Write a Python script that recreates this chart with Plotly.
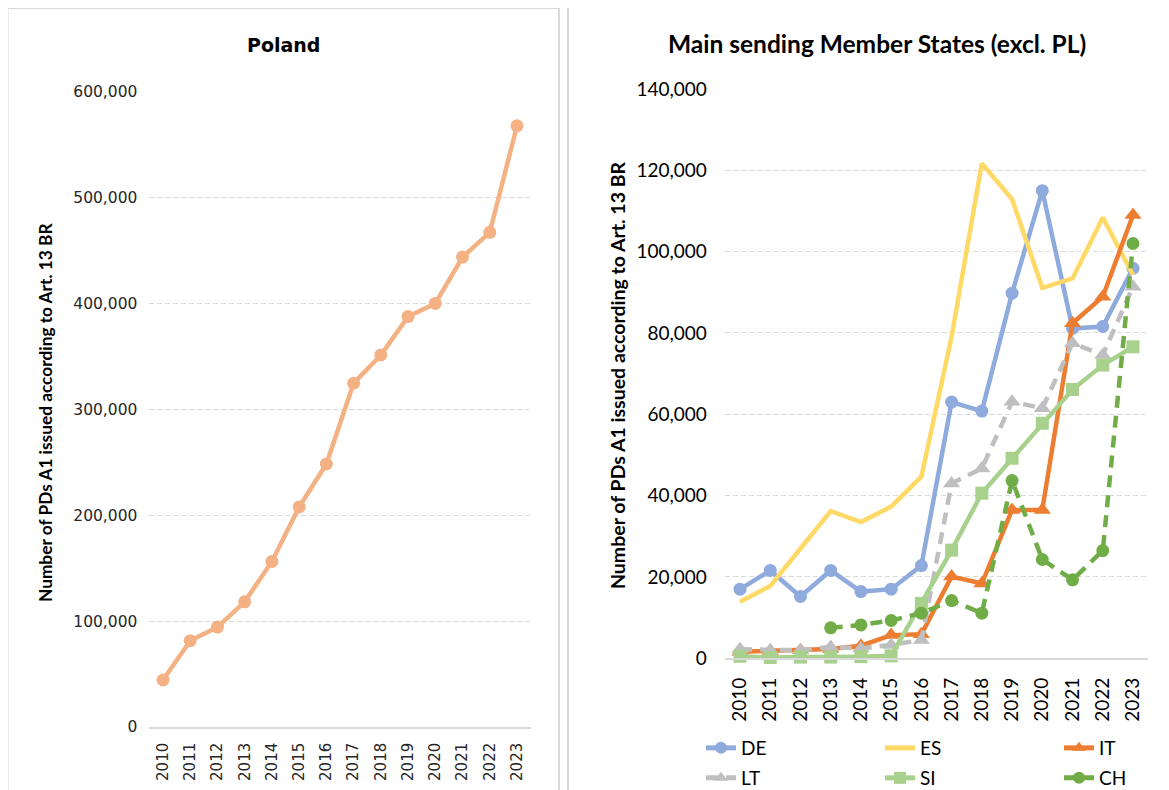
import plotly.graph_objects as go

years = [str(y) for y in range(2010, 2024)]

poland = [44400, 81600, 94400, 118300, 156400, 207900, 248500, 324800,
          351500, 387800, 400200, 444000, 467400, 568000]

de = [17000, 21600, 15200, 21600, 16400, 17000, 22800, 63000, 60800, 89800,
      115000, 81100, 81600, 95900]
es = [13900, 17800, 27000, 36200, 33500, 37300, 44700, 79100, 121700, 112900,
      91100, 93400, 108400, 94300]
it = [1600, 1800, 2000, 2300, 3100, 5700, 5900, 20100, 18400, 36500, 36500,
      82400, 88900, 109000]
lt = [2200, 2000, 2000, 2800, 2400, 3300, 4500, 43000, 46700, 63100, 61500,
      77500, 74600, 91400]
si = [500, 200, 300, 300, 400, 600, 13500, 26600, 40600, 49200, 57800,
      66100, 72100, 76600]
ch = [None, None, None, 7500, 8200, 9300, 11100, 14200, 11100, 43700, 24300,
      19300, 26500, 102000]

# page body offset (default 8px margin) compensated
OFF = 8
W, H = 1169 - OFF, 790 - OFF
def px(x):
    return (x - OFF) / W
def py(y):
    return 1 - (y - OFF) / H

GRID = "#D9D9D9"
LEFT_FONT = "DejaVu Sans"
RIGHT_FONT = "Lato"

fig = go.Figure()

fig.add_trace(go.Scatter(
    x=years, y=poland, mode="lines+markers", name="PL",
    line=dict(color="#F4B183", width=4.5),
    marker=dict(symbol="circle", size=13, color="#F4B183"),
    xaxis="x", yaxis="y", showlegend=False, cliponaxis=False))

series = [
    ("DE", de, "#8FAADC", "solid", "circle", 13, "legend"),
    ("ES", es, "#FFD966", "solid", None, 13, "legend"),
    ("IT", it, "#ED7D31", "solid", "triangle-up", 15, "legend"),
    ("LT", lt, "#BFBFBF", "12px,8px", "triangle-up", 15, "legend2"),
    ("SI", si, "#A9D18E", "solid", "square", 13, "legend2"),
    ("CH", ch, "#70AD47", "12px,8px", "circle", 13, "legend2"),
]
for name, vals, col, dash, sym, msize, leg in series:
    fig.add_trace(go.Scatter(
        x=years, y=vals, name=name,
        mode="lines+markers" if sym else "lines",
        line=dict(color=col, width=4.5, dash=dash),
        marker=dict(symbol=sym or "circle", size=msize, color=col),
        xaxis="x2", yaxis="y2", legend=leg, cliponaxis=False,
        connectgaps=False))

fig.update_layout(
    width=W, height=H,
    margin=dict(l=0, r=0, t=0, b=0, pad=0, autoexpand=False),
    paper_bgcolor="white", plot_bgcolor="white",
    xaxis=dict(domain=[px(149.4), px(530.6)], anchor="y", type="category",
               range=[-0.5, 13.5], showgrid=False, showline=True,
               linecolor=GRID, linewidth=1.5, tickangle=-90, ticks="",
               ticklabelstandoff=8, automargin=False,
               tickfont=dict(family=LEFT_FONT, size=15, color="#262626")),
    yaxis=dict(domain=[py(727), py(92)], anchor="x", range=[0, 600000],
               tickvals=[0, 100000, 200000, 300000, 400000, 500000, 600000],
               tickformat=",d", showgrid=True, gridcolor=GRID, gridwidth=1,
               griddash="5px,3px", zeroline=False, showline=False, ticks="",
               ticklabelstandoff=11, automargin=False,
               tickfont=dict(family=LEFT_FONT, size=15.5, color="#262626")),
    xaxis2=dict(domain=[px(724.9), px(1148.1)], anchor="y2", type="category",
                range=[-0.5, 13.5], showgrid=False, showline=True,
                linecolor=GRID, linewidth=1.5, tickangle=-90, ticks="",
                ticklabelstandoff=10, automargin=False,
                tickfont=dict(family=RIGHT_FONT, size=19, color="#000000")),
    yaxis2=dict(domain=[py(658.3), py(89)], anchor="x2", range=[0, 140000],
                tickvals=[0, 20000, 40000, 60000, 80000, 100000, 120000, 140000],
                tickformat=",d", showgrid=True, gridcolor=GRID, gridwidth=1,
                griddash="5px,3px", zeroline=False, showline=False, ticks="",
                ticklabelstandoff=17, automargin=False,
                tickfont=dict(family=RIGHT_FONT, size=19, color="#000000")),
    legend=dict(orientation="h", x=px(701), y=py(748), xanchor="left",
                yanchor="middle", entrywidth=134, entrywidthmode="pixels",
                font=dict(family=RIGHT_FONT, size=19, color="#000000"),
                bgcolor="rgba(0,0,0,0)", itemsizing="constant"),
    legend2=dict(orientation="h", x=px(701), y=py(778), xanchor="left",
                 yanchor="middle", entrywidth=134, entrywidthmode="pixels",
                 font=dict(family=RIGHT_FONT, size=19, color="#000000"),
                 bgcolor="rgba(0,0,0,0)", itemsizing="constant"),
    shapes=[
        dict(type="rect", xref="paper", yref="paper", x0=px(7.5), x1=px(559),
             y0=-0.05, y1=py(8), line=dict(color=GRID, width=2),
             fillcolor="rgba(0,0,0,0)", layer="below"),
        dict(type="rect", xref="paper", yref="paper", x0=px(568), x1=1.05,
             y0=-0.05, y1=py(5), line=dict(color=GRID, width=2),
             fillcolor="rgba(0,0,0,0)", layer="below"),
    ],
    annotations=[
        dict(text="<b>Poland</b>", xref="paper", yref="paper", x=px(283),
             y=py(45), showarrow=False, xanchor="center", yanchor="middle",
             font=dict(family=LEFT_FONT, size=19, color="#000000")),
        dict(text="<b>Main sending Member States (excl. PL)</b>", xref="paper",
             yref="paper", x=px(877), y=py(43), showarrow=False,
             xanchor="center", yanchor="middle",
             font=dict(family=RIGHT_FONT, size=24.5, color="#000000")),
        dict(text="<b>Number of PDs A1 issued according to Art. 13 BR</b>",
             xref="paper", yref="paper", x=px(45), y=py(413), textangle=-90,
             showarrow=False, xanchor="center", yanchor="middle",
             font=dict(family=RIGHT_FONT, size=17.3, color="#000000")),
        dict(text="<b>Number of PDs A1 issued according to Art. 13 BR</b>",
             xref="paper", yref="paper", x=px(617), y=py(375), textangle=-90,
             showarrow=False, xanchor="center", yanchor="middle",
             font=dict(family=RIGHT_FONT, size=19.5, color="#000000")),
    ],
)

fig.write_html("out.html")
